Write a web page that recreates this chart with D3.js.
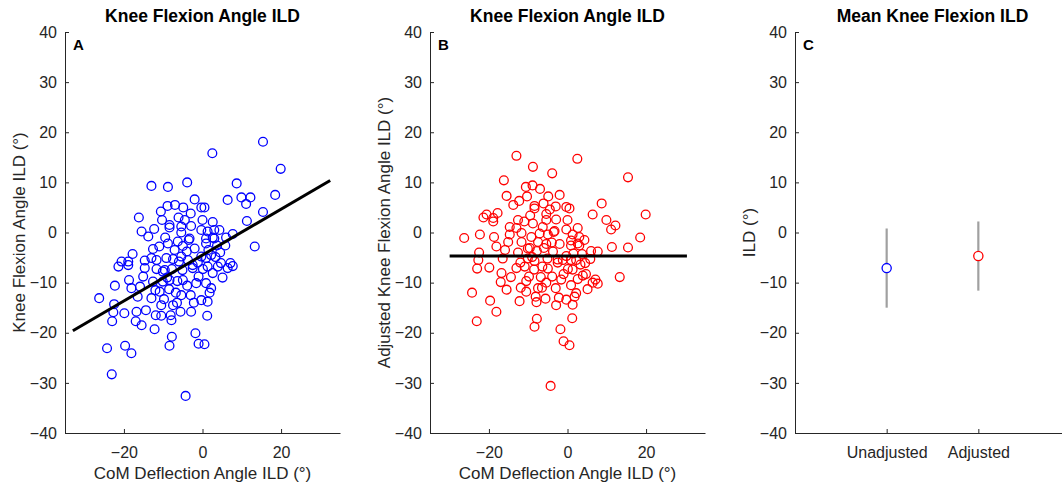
<!DOCTYPE html>
<html>
<head>
<meta charset="utf-8">
<script src="https://cdn.jsdelivr.net/npm/d3@7"></script>
<style>
  body { margin: 0; background: #fff; }
  text { font-family: "Liberation Sans", Arial, Helvetica, sans-serif; }
</style>
</head>
<body>
<svg width="1062" height="488"></svg>
<script>
// ---- data ----
const xTickVals = [-20, 0, 20];
const yTickVals = [-40, -30, -20, -10, 0, 10, 20, 30, 40];

// CoM deflection angle ILD (deg), one per subject
const comIld = [
  -13.0, -8.8, -3.9, -8.9, -4.9, -0.3, -16.2, -10.3, -6.1, -15.5,
  -12.3, -8.4, -5.4, -2.9, -0.3, -5.4, -8.8, -6.3, -3.3, -12.6,
  -7.1, -5.0, -2.0, -17.8, -20.6, -18.9, -14.7, -13.0, -9.2, -7.5,
  -5.4, -3.7, -0.3, 15.4, 2.5, 19.9, 8.7, 6.4, 9.9, 12.2,
  11.1, 18.5, 15.4, 0.5, 11.3, 2.6, 7.7, 6.0, 3.0, 1.3,
  2.6, 0.9, 3.7, 13.3, 2.2, 4.7, 7.1, 0.9, -21.4, -18.9,
  -14.7, -11.7, -9.6, -7.8, -5.1, -2.5, 0.1, -18.7, -15.1, -12.6,
  -22.3, -18.1, -15.9, -10.1, -8.4, -6.4, -3.9, -1.6, -26.3, -13.0,
  -10.9, -8.5, -5.4, -3.0, -0.3, -22.5, -19.9, -22.7, -23.0, -16.8,
  -14.4, -11.9, -10.5, -8.1, -7.5, -5.6, -2.9, -17.0, -15.5, -12.2,
  -7.9, -1.8, -7.8, -1.0, -8.4, -24.3, -19.7, -18.1, -23.1, -4.3,
  1.3, 3.9, 6.4, 7.7, 5.1, 2.2, 1.3, 1.2, 0.5, -8.4,
  4.3, 0.9, 3.0, -11.7, 3.3, -2.5, -10.1, -5.0, 2.6, 0.9,
  1.8, -10.5, -9.5, -4.0, -1.2, -6.8, -11.0, -3.0, 1.5, -7.0,
  -9.8, -1.0, -13.8, -6.0, -2.2, -4.5, 4.5, -9.0, -12.0, -3.5,
  0.0, -6.5, -16.5, 5.8, -2.0, -10.6
];

// knee flexion angle ILD (deg)
const kneeIld = [
  9.3, 9.1, 10.0, 5.3, 5.0, 5.0, 3.0, 2.5, 3.0, 0.2,
  0.7, 1.0, 1.2, 1.3, 0.5, 0.0, -2.2, -1.8, -1.2, -3.3,
  -3.5, -2.7, -3.2, -4.3, -5.8, -5.8, -5.6, -5.1, -5.1, -5.3,
  -4.8, -5.5, -4.8, 18.1, 15.8, 12.7, 9.8, 6.5, 7.0, 7.0,
  5.7, 7.5, 4.1, 5.0, 2.3, 2.1, -0.3, -1.0, 0.5, 0.2,
  -1.0, -2.2, -2.6, -2.8, -4.5, -6.1, -6.1, -5.1, -6.8, -6.5,
  -7.1, -7.3, -7.5, -7.3, -7.5, -7.1, -7.3, -9.5, -8.8, -9.8,
  -10.6, -11.1, -10.8, -9.8, -9.5, -9.7, -10.6, -10.1, -13.1, -13.1,
  -11.8, -11.3, -12.5, -12.5, -13.5, -14.3, -16.1, -15.9, -17.7, -15.8,
  -15.5, -16.5, -16.6, -16.5, -14.5, -15.8, -15.8, -17.7, -18.5, -19.3,
  -17.5, -20.1, -20.8, -22.2, -22.6, -23.1, -22.6, -24.1, -28.3, -32.6,
  -6.8, -6.8, -7.1, -6.7, -9.0, -11.1, -13.8, -16.6, -22.3, 1.5,
  0.5, -1.2, -1.2, -5.5, -4.9, -6.5, -7.8, -9.5, -8.1, -10.1,
  -12.0, -14.5, -1.0, -3.8, -6.0, -12.0, -2.8, 3.8, -3.5, 5.5,
  -13.3, -8.8, -0.8, -5.8, -14.0, 2.5, -4.0, -9.0, -11.5, -1.5,
  2.5, -14.0, -12.8, -2.6, 6.6, 4.2
];

// adjusted knee flexion angle ILD (deg)
const kneeIldAdj = [
  15.3, 13.1, 11.8, 9.4, 7.2, 5.1, 10.4, 7.2, 5.8, 7.3,
  6.3, 4.8, 3.7, 2.6, 0.6, 2.5, 1.8, 1.1, 0.3, 2.5,
  -0.2, -0.4, -2.3, 3.9, 3.6, 2.9, 1.1, 0.9, -0.9, -1.9,
  -2.3, -3.8, -4.7, 11.0, 14.7, 3.6, 5.8, 3.6, 2.5, 1.4,
  0.6, -1.0, -3.0, 4.8, -2.9, 0.9, -3.8, -3.7, -0.9, -0.4,
  -2.2, -2.6, -4.3, -8.9, -5.5, -8.3, -9.4, -5.5, 3.0, 2.2,
  -0.4, -1.9, -3.1, -3.7, -5.2, -6.0, -7.3, -0.9, -1.9, -4.0,
  -0.4, -2.8, -3.5, -5.2, -5.7, -6.8, -8.8, -9.4, -1.1, -7.1,
  -6.8, -7.4, -10.0, -11.1, -13.4, -4.0, -7.0, -5.5, -7.2, -8.1,
  -8.9, -11.0, -11.8, -12.8, -11.1, -13.2, -14.5, -9.9, -11.4, -13.7,
  -13.9, -19.3, -17.2, -21.7, -18.8, -12.0, -13.6, -15.8, -17.7, -30.6,
  -7.4, -8.6, -10.0, -10.2, -11.3, -12.1, -14.4, -17.1, -22.5, 5.3,
  -1.5, -1.6, -2.6, -0.1, -6.4, -5.4, -3.2, -7.2, -9.3, -10.5,
  -12.8, -9.7, 3.4, -2.0, -5.5, -8.9, 2.2, 5.2, -4.2, 8.7,
  -8.8, -8.3, 5.5, -3.1, -13.0, 4.6, -6.1, -4.9, -6.0, 0.1,
  2.5, -11.0, -5.2, -5.3, 7.5, 9.1
];

// regression line of panel A and mean line of panel B
const fitSlope = 0.458;
const fitIntercept = -4.5;
const fitSpanA = [-33, 32.5];
const adjMean = -4.7;
const fitSpanB = [-30, 30.4];

// panel C
const groups = ["Unadjusted", "Adjusted"];
const groupMean = [-7.1, -4.7];
const groupSd = [7.9, 6.9];

const titles = ["Knee Flexion Angle ILD", "Knee Flexion Angle ILD", "Mean Knee Flexion ILD"];
const letters = ["A", "B", "C"];
const yLabels = ["Knee Flexion Angle ILD (\u00b0)", "Adjusted Knee Flexion Angle ILD (\u00b0)", "ILD (\u00b0)"];
const xLabel = "CoM Deflection Angle ILD (\u00b0)";

// ---- layout ----
const svg = d3.select("svg");
const axTop = 32, axBottom = 433, axW = 275;
const lefts = [65, 430, 795];
const ink = "#262626";

const y = d3.scaleLinear().domain([-40, 40]).range([axBottom, axTop]);

function styleAxis(g) {
  g.select(".domain").attr("stroke", ink).attr("stroke-width", 1);
  g.selectAll(".tick line").attr("stroke", ink).attr("stroke-width", 1);
  g.selectAll(".tick text").attr("fill", ink).style("font-size", "16px");
}

function frame(i, x, xAxis) {
  const g = svg.append("g");
  const cx = lefts[i] + axW / 2;

  g.append("g")
    .attr("transform", `translate(0,${axBottom})`)
    .call(xAxis.tickSizeInner(-4).tickSizeOuter(0).tickPadding(14))
    .call(styleAxis);

  g.append("g")
    .attr("transform", `translate(${lefts[i]},0)`)
    .call(d3.axisLeft(y).tickValues(yTickVals).tickSizeInner(-4).tickSizeOuter(0).tickPadding(8))
    .call(styleAxis);

  g.append("text")
    .attr("x", cx).attr("y", 22)
    .attr("text-anchor", "middle")
    .style("font-size", "17.5px").style("font-weight", "bold")
    .attr("fill", "#000")
    .text(titles[i]);

  g.append("text")
    .attr("x", lefts[i] + 8).attr("y", 50)
    .style("font-size", "15px").style("font-weight", "bold")
    .attr("fill", "#000")
    .text(letters[i]);

  g.append("text")
    .attr("transform", `translate(${lefts[i] - 40},${(axTop + axBottom) / 2}) rotate(-90)`)
    .attr("text-anchor", "middle")
    .style("font-size", "17px")
    .attr("fill", ink)
    .text(yLabels[i]);

  return g;
}

function scatterPanel(i, yVals, color, lineX, lineY) {
  const x = d3.scaleLinear().domain([-35, 35]).range([lefts[i], lefts[i] + axW]);
  const g = frame(i, x, d3.axisBottom(x).tickValues(xTickVals));

  g.append("text")
    .attr("x", lefts[i] + axW / 2).attr("y", 479)
    .attr("text-anchor", "middle")
    .style("font-size", "17px")
    .attr("fill", ink)
    .text(xLabel);

  g.append("g").selectAll("circle")
    .data(comIld.map((d, k) => [d, yVals[k]]))
    .join("circle")
    .attr("cx", d => x(d[0]))
    .attr("cy", d => y(d[1]))
    .attr("r", 4.4)
    .attr("fill", "none")
    .attr("stroke", color)
    .attr("stroke-width", 1.3);

  g.append("path")
    .datum(lineX.map((d, k) => [d, lineY[k]]))
    .attr("d", d3.line().x(d => x(d[0])).y(d => y(d[1])))
    .attr("stroke", "#000")
    .attr("stroke-width", 3)
    .attr("fill", "none");
}

scatterPanel(0, kneeIld, "#0000ff", fitSpanA, fitSpanA.map(v => fitIntercept + fitSlope * v));
scatterPanel(1, kneeIldAdj, "#ff0000", fitSpanB, fitSpanB.map(() => adjMean));

// panel C: means with SD bars
const xc = d3.scaleLinear().domain([0, 3]).range([lefts[2], lefts[2] + axW]);
const gc = frame(2, xc, d3.axisBottom(xc).tickValues([1, 2]).tickFormat(v => groups[v - 1]));
const colorsC = ["#0000ff", "#ff0000"];

gc.append("g").selectAll("line")
  .data(groups)
  .join("line")
  .attr("x1", (d, k) => xc(k + 1)).attr("x2", (d, k) => xc(k + 1))
  .attr("y1", (d, k) => y(groupMean[k] + groupSd[k]))
  .attr("y2", (d, k) => y(groupMean[k] - groupSd[k]))
  .attr("stroke", "#a0a0a0")
  .attr("stroke-width", 2.2);

gc.append("g").selectAll("circle")
  .data(groups)
  .join("circle")
  .attr("cx", (d, k) => xc(k + 1))
  .attr("cy", (d, k) => y(groupMean[k]))
  .attr("r", 4.6)
  .attr("fill", "#fff")
  .attr("stroke", (d, k) => colorsC[k])
  .attr("stroke-width", 1.3);
</script>
</body>
</html>
